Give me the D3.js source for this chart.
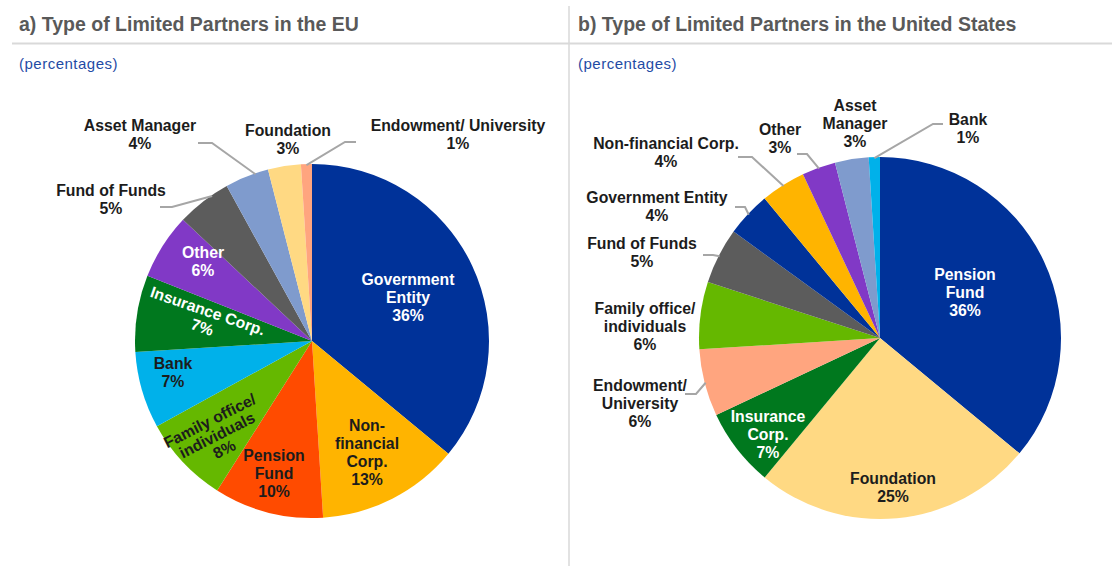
<!DOCTYPE html>
<html>
<head>
<meta charset="utf-8">
<script src="https://cdn.jsdelivr.net/npm/d3@7"></script>
<style>
  body { margin: 0; background: #fff; }
  svg { display: block; font-family: "Liberation Sans", Arial, Helvetica, sans-serif; }
</style>
</head>
<body>
<svg id="chart" width="1112" height="566"></svg>
<script>
// ---- Data (shares of limited partners, %), clockwise from 12 o'clock ----
const euCategories = ["Government\nEntity", "Non-\nfinancial\nCorp.", "Pension\nFund", "Family office/\nindividuals",
  "Bank", "Insurance Corp.", "Other", "Fund of Funds", "Asset Manager", "Foundation", "Endowment/ University"];
const euValues = [36, 13, 10, 8, 7, 7, 6, 5, 4, 3, 1];

const usCategories = ["Pension\nFund", "Foundation", "Insurance\nCorp.", "Endowment/\nUniversity", "Family office/\nindividuals",
  "Fund of Funds", "Government Entity", "Non-financial Corp.", "Other", "Asset\nManager", "Bank"];
const usValues = [36, 25, 7, 6, 6, 5, 4, 4, 3, 3, 1];

const titles = ["a) Type of Limited Partners in the EU", "b) Type of Limited Partners in the United States"];
const subtitle = "(percentages)";

// ---- Styles ----
const C = {
  blue: "#003299", yellow: "#FFB400", red: "#FF4B00", green: "#65B800", cyan: "#00B1EA",
  dgreen: "#00781E", purple: "#8139C6", grey: "#5C5C5C", steel: "#7F9BCD", sand: "#FFD983", salmon: "#FFA57F"
};
const euColors = [C.blue, C.yellow, C.red, C.green, C.cyan, C.dgreen, C.purple, C.grey, C.steel, C.sand, C.salmon];
const usColors = [C.blue, C.sand, C.dgreen, C.salmon, C.green, C.grey, C.blue, C.yellow, C.purple, C.steel, C.cyan];
const DARK = "#1c1c1c", WHITE = "#ffffff";

// Label placement for each slice: block centre, colour, optional rotation,
// and for outside labels the leader elbow plus where along the slice edge it lands (0..1)
const euLabels = [
  { x: 408, y: 297, fill: WHITE },
  { x: 367, y: 452.5, fill: DARK },
  { x: 274, y: 473, fill: DARK },
  { x: 217, y: 435, fill: DARK, rot: -27, lh: 16 },
  { x: 173, y: 372.5, fill: DARK },
  { x: 205, y: 319, fill: WHITE, rot: 19, lh: 17 },
  { x: 203, y: 261.5, fill: WHITE },
  { x: 111, y: 199, fill: DARK, leader: [[160, 207], [172, 207]], at: 0.68 },
  { x: 140, y: 134, fill: DARK, leader: [[198, 143], [212, 143]], at: 0.7 },
  { x: 288, y: 139, fill: DARK },
  { x: 458, y: 134, fill: DARK, leader: [[356, 142], [345, 142]] }
];
const usLabels = [
  { x: 965, y: 292.5, fill: WHITE },
  { x: 893, y: 487, fill: DARK },
  { x: 768, y: 434, fill: WHITE },
  { x: 640, y: 403, fill: DARK, leader: [[685, 394], [696, 394]] },
  { x: 645, y: 326, fill: DARK },
  { x: 642, y: 252, fill: DARK, leader: [[703, 255], [713, 255]] },
  { x: 657, y: 206, fill: DARK, leader: [[735, 207], [745, 207]] },
  { x: 666, y: 152.5, fill: DARK, leader: [[738, 157], [752, 157]] },
  { x: 780, y: 138.5, fill: DARK, leader: [[797, 154], [807, 154]] },
  { x: 855, y: 123.5, fill: DARK },
  { x: 968, y: 128.5, fill: DARK, leader: [[943, 124], [933, 124]] }
];

const svg = d3.select("#chart");

// ---- Frame: titles, subtitles and divider rules ----
svg.append("line").attr("x1", 12).attr("x2", 1112).attr("y1", 43.5).attr("y2", 43.5)
  .attr("stroke", "#D9D9D9").attr("stroke-width", 2);
svg.append("line").attr("x1", 569).attr("x2", 569).attr("y1", 6).attr("y2", 566)
  .attr("stroke", "#D9D9D9").attr("stroke-width", 1.5);

[19, 578].forEach((x, i) => {
  svg.append("text").attr("x", x).attr("y", 31)
    .attr("font-size", 19.5).attr("font-weight", "bold").attr("fill", "#595959")
    .text(titles[i]);
  svg.append("text").attr("x", x).attr("y", 69)
    .attr("font-size", 15).attr("letter-spacing", 0.5).attr("fill", "#1F4BA5")
    .text(subtitle);
});

// ---- Pie drawing ----
function drawPie(cats, vals, colors, labels, cx, cy, r) {
  const data = cats.map((c, i) => ({ name: c, value: vals[i], color: colors[i], lab: labels[i] }));
  const pie = d3.pie().sort(null).value(d => d.value);
  const arcs = pie(data);
  const arc = d3.arc().innerRadius(0).outerRadius(r);

  const g = svg.append("g").attr("transform", `translate(${cx},${cy})`);
  g.selectAll("path").data(arcs).join("path")
    .attr("d", arc)
    .attr("fill", d => d.data.color);

  // leader lines from the label elbow to the slice edge
  const line = d3.line();
  arcs.filter(d => d.data.lab.leader).forEach(d => {
    const t = d.data.lab.at == null ? 0.5 : d.data.lab.at;
    const a = d.startAngle + (d.endAngle - d.startAngle) * t;
    const edge = [cx + (r - 1) * Math.sin(a), cy - (r - 1) * Math.cos(a)];
    svg.append("path")
      .attr("d", line([...d.data.lab.leader, edge]))
      .attr("fill", "none").attr("stroke", "#A6A6A6").attr("stroke-width", 2);
  });

  // labels: category lines followed by the value
  arcs.forEach(d => {
    const L = d.data.lab;
    const lines = d.data.name.split("\n").concat([`${d.data.value}%`]);
    const lh = L.lh || 18;
    const t = svg.append("text")
      .attr("transform", `translate(${L.x},${L.y}) rotate(${L.rot || 0})`)
      .attr("text-anchor", "middle")
      .attr("font-size", 15.8).attr("font-weight", "bold")
      .attr("fill", L.fill);
    lines.forEach((s, k) => {
      t.append("tspan").attr("x", 0)
        .attr("y", (k - (lines.length - 1) / 2) * lh + 5.5)
        .text(s);
    });
  });
}

drawPie(euCategories, euValues, euColors, euLabels, 312, 341, 177);
drawPie(usCategories, usValues, usColors, usLabels, 880, 338, 181);
</script>
</body>
</html>
